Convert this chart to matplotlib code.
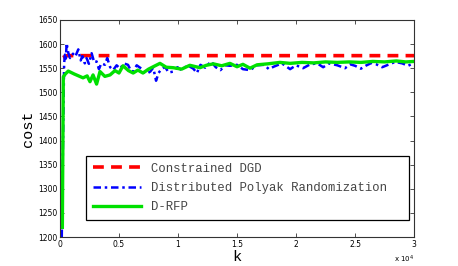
import matplotlib
matplotlib.use('Agg')
import matplotlib.pyplot as plt
import numpy as np

# iteration index k and cost values
k_red = [250, 600, 30000]
c_red = [1572, 1576, 1576]

k_blue = [150, 250, 350, 420, 500, 560, 700, 850, 1100, 1300, 1550, 1750, 1900, 2100,
          2250, 2450, 2680, 2900, 3100, 3300, 3500, 3810, 4000, 4250, 4500, 4800,
          5100, 5400, 5760, 6000, 6200, 6500, 6900, 7300, 7650, 7900, 8140, 8350,
          8500, 8900, 9200, 9600, 9950, 10300, 10800, 11300, 11600, 11900, 12300,
          12800, 13200, 13600, 14000, 14400, 15000, 15500, 16100, 16700, 17300,
          17700, 18100, 18800, 19500, 20000, 20600, 21200, 21800, 22300, 22800,
          23500, 24150, 24600, 25000, 25500, 25900, 26400, 26800, 27300, 27800,
          28400, 29000, 29500, 30000]
c_blue = [1200, 1390, 1560, 1578, 1570, 1602, 1582, 1571, 1580, 1574, 1589, 1566, 1575,
          1560, 1571, 1559, 1581, 1562, 1564, 1548, 1560, 1557, 1571, 1552, 1546, 1556,
          1549, 1560, 1557, 1545, 1543, 1556, 1549, 1538, 1543, 1551, 1524, 1540,
          1545, 1553, 1541, 1543, 1552, 1546, 1556, 1549, 1540, 1557, 1551,
          1564, 1552, 1546, 1556, 1555, 1557, 1548, 1546, 1556, 1557,
          1548, 1553, 1560, 1548, 1556, 1550, 1558, 1560, 1552, 1560,
          1556, 1550, 1558, 1555, 1549, 1555, 1561, 1558, 1552, 1557,
          1563, 1560, 1555, 1561]

k_green = [200, 280, 450, 700, 1200, 1950, 2300, 2540, 2800, 3100, 3390, 3800, 4240,
           4660, 5000, 5340, 5800, 6200, 6600, 7030, 7500, 7900, 8470, 9000, 9600,
           10300, 11000, 11860, 12400, 13000, 13700, 14400, 15000, 15500, 16100,
           16700, 17600, 18640, 19500, 20500, 21500, 22500, 23500, 24500, 25500,
           26500, 27500, 28500, 29300, 30000]
c_green = [1220, 1532, 1538, 1544, 1538, 1530, 1534, 1522, 1536, 1517, 1543, 1533, 1536,
           1545, 1540, 1555, 1545, 1540, 1546, 1540, 1548, 1553, 1560, 1552, 1551,
           1548, 1556, 1551, 1556, 1559, 1555, 1560, 1553, 1558, 1550,
           1557, 1559, 1562, 1560, 1562, 1561, 1563, 1562, 1563, 1562,
           1564, 1563, 1565, 1563, 1564]

labels = ['Constrained DGD', 'Distributed Polyak Randomization', 'D-RFP']

fig = plt.figure(figsize=(4.58, 2.66), dpi=100)
ax = fig.add_axes([0.131, 0.109, 0.773, 0.816])

ax.plot(k_red, c_red, color='red', ls=(0, (3, 2)), lw=2.6, label=labels[0])
ax.plot(k_blue, c_blue, color='blue', ls=(0, (3, 1.5, 1, 1.5)), lw=1.8, label=labels[1])
ax.plot(k_green, c_green, color='#00e000', ls='-', lw=2.4, label=labels[2])

ax.set_xlim(0, 30000)
ax.set_ylim(1200, 1650)
xt = np.arange(0, 30001, 5000)
ax.set_xticks(xt)
ax.set_xticklabels(['0', '0.5', '1', '1.5', '2', '2.5', '3'])
ax.set_yticks(np.arange(1200, 1651, 50))
ax.tick_params(direction='in', top=True, right=True, labelsize=5.5,
               length=3, width=0.6, colors='#333333', labelcolor='black', pad=2)
for s in ax.spines.values():
    s.set_linewidth(0.8)
    s.set_color('#333333')

ax.set_xlabel('k', family='Liberation Mono', fontsize=11, labelpad=1)
ax.set_ylabel('cost', family='Liberation Mono', fontsize=11, labelpad=2)
ax.text(1.0, -0.075, r'x 10$^4$', transform=ax.transAxes, fontsize=5,
        ha='right', va='top')

leg = ax.legend(loc='lower left', bbox_to_anchor=(0.073, 0.078, 0.913, 0.30),
                mode='expand', borderaxespad=0,
                prop={'family': 'Liberation Mono', 'size': 8.8},
                handlelength=4, labelspacing=0.6, borderpad=0.55,
                fancybox=False, framealpha=1, edgecolor='black')
leg.get_frame().set_linewidth(0.9)
for t in leg.get_texts():
    t.set_color('#444444')

plt.savefig('out.png', dpi=100)
